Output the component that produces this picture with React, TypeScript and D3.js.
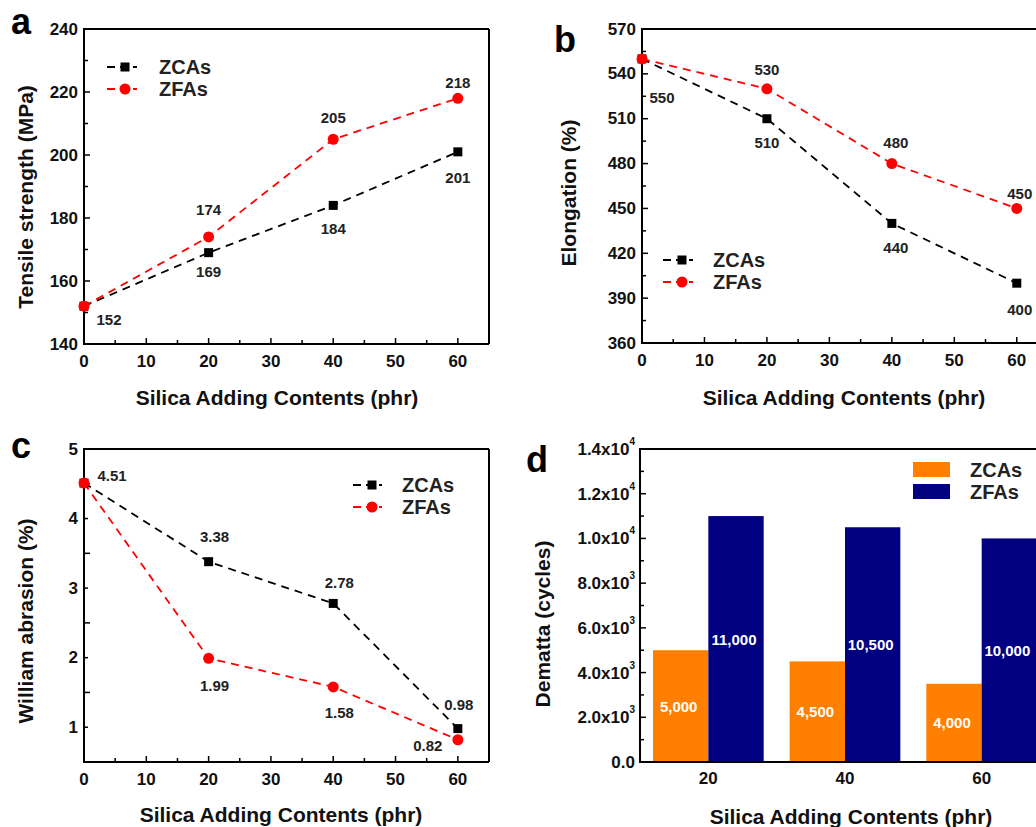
import { useEffect, useRef } from "react";
import * as d3 from "d3";

// silica contents (phr)
const contents = [0, 20, 40, 60];
const seriesNames = ["ZCAs", "ZFAs"];

const tensileZCA = [152, 169, 184, 201];
const tensileZFA = [152, 174, 205, 218];
const elongZCA = [550, 510, 440, 400];
const elongZFA = [550, 530, 480, 450];
const abrasionZCA = [4.51, 3.38, 2.78, 0.98];
const abrasionZFA = [4.51, 1.99, 1.58, 0.82];

const barContents = ["20", "40", "60"];
const demattaZCA = [5000, 4500, 3500];
const demattaZFA = [11000, 10500, 10000];
const demattaZCALabels = ["5,000", "4,500", "4,000"];
const demattaZFALabels = ["11,000", "10,500", "10,000"];

const FONT = "'Liberation Sans', Arial, sans-serif";
const colors = ["#000000", "#ff0000"];
const barColors = ["#ff8000", "#000080"];

// label placement: [series, index, dx, dy]
const layoutA = [
  [0, 0, 25, 13], [0, 1, 0, 19], [0, 2, 0, 23], [0, 3, 0, 26],
  [1, 1, 0, -27], [1, 2, 0, -22], [1, 3, 0, -16],
];
const layoutB = [
  [0, 0, 20, 39], [0, 1, 0, 24], [0, 2, 4, 24], [0, 3, 3, 26],
  [1, 1, 0, -19], [1, 2, 4, -21], [1, 3, 3, -15],
];
const layoutC = [
  [1, 0, 28, -8], [0, 1, 6, -25], [0, 2, 6, -21], [0, 3, 1, -24],
  [1, 1, 6, 27], [1, 2, 6, 26], [1, 3, -30, 6],
];

const drawFrame = (g, x0, x1, y0, y1, right = true) => {
  const f = g.append("g").attr("stroke", "#000").attr("stroke-width", 2).attr("fill", "none");
  f.append("line").attr("x1", x0).attr("x2", x0).attr("y1", y0 - 1).attr("y2", y1 + 1);
  f.append("line").attr("x1", x0 - 1).attr("x2", x1).attr("y1", y1).attr("y2", y1);
  f.append("line").attr("x1", x0 - 1).attr("x2", x1).attr("y1", y0).attr("y2", y0);
  if (right) f.append("line").attr("x1", x1).attr("x2", x1).attr("y1", y0).attr("y2", y1);
};

const drawLinePanel = (svg, cfg) => {
  const { left, right, top, bottom, yDomain, yStep, series, layout, fmt, legend, letter, yTitle, letterPos } = cfg;
  const g = svg.append("g");
  const x = d3.scaleLinear().domain([0, 65]).range([left, right]);
  const y = d3.scaleLinear().domain(yDomain).range([bottom, top]);

  // ticks (inward)
  const ticks = g.append("g").attr("stroke", "#000").attr("stroke-width", 1.5);
  d3.range(0, 61, 5).forEach((v) => {
    const len = v % 10 === 0 ? 6 : 4;
    ticks.append("line").attr("x1", x(v)).attr("x2", x(v)).attr("y1", bottom).attr("y2", bottom - len);
  });
  d3.range(yDomain[0], yDomain[1] + 1e-9, yStep / 2).forEach((v, i) => {
    const len = i % 2 === 0 ? 6 : 4;
    ticks.append("line").attr("x1", left).attr("x2", left + len).attr("y1", y(v)).attr("y2", y(v));
  });
  drawFrame(g, left, right, top, bottom);

  const tl = g.append("g").attr("font-family", FONT).attr("font-weight", "bold").attr("font-size", 17).attr("fill", "#111");
  cfg.yLabels.forEach((v) => {
    tl.append("text").attr("x", left - 6).attr("y", y(v)).attr("text-anchor", "end").attr("dominant-baseline", "central").text(v);
  });
  d3.range(0, 61, 10).forEach((v) => {
    tl.append("text").attr("x", x(v)).attr("y", bottom + 17).attr("text-anchor", "middle").attr("dominant-baseline", "central").text(v);
  });

  const line = d3.line().x((d, i) => x(contents[i])).y((d) => y(d));
  series.forEach((s, k) => {
    g.append("path").attr("d", line(s)).attr("fill", "none").attr("stroke", colors[k])
      .attr("stroke-width", 1.8).attr("stroke-dasharray", "8,6");
  });
  series.forEach((s, k) => {
    s.forEach((v, i) => {
      if (k === 0) g.append("rect").attr("x", x(contents[i]) - 4.5).attr("y", y(v) - 4.5).attr("width", 9).attr("height", 9).attr("fill", colors[k]);
      else g.append("circle").attr("cx", x(contents[i])).attr("cy", y(v)).attr("r", 5.5).attr("fill", colors[k]);
    });
  });

  const lab = g.append("g").attr("font-family", FONT).attr("font-weight", "bold").attr("font-size", 15).attr("fill", "#222");
  layout.forEach(([k, i, dx, dy]) => {
    const v = series[k][i];
    lab.append("text").attr("x", x(contents[i]) + dx).attr("y", y(v) + dy)
      .attr("text-anchor", "middle").attr("dominant-baseline", "central").text(fmt(v));
  });

  // legend
  const [lx0, lx1, mx, ly, tx] = legend;
  seriesNames.forEach((name, k) => {
    const yy = ly + k * 22;
    g.append("line").attr("x1", lx0).attr("x2", lx1).attr("y1", yy).attr("y2", yy).attr("stroke", colors[k])
      .attr("stroke-width", 1.8).attr("stroke-dasharray", "8,5");
    if (k === 0) g.append("rect").attr("x", mx - 4.5).attr("y", yy - 4.5).attr("width", 9).attr("height", 9).attr("fill", colors[k]);
    else g.append("circle").attr("cx", mx).attr("cy", yy).attr("r", 5.5).attr("fill", colors[k]);
    g.append("text").attr("x", tx).attr("y", yy).attr("dominant-baseline", "central").attr("font-family", FONT)
      .attr("font-weight", "bold").attr("font-size", 20).attr("fill", "#222").text(name);
  });

  g.append("text").attr("x", letterPos[0]).attr("y", letterPos[1]).attr("font-family", FONT).attr("font-weight", "bold")
    .attr("font-size", 36).text(letter);
  g.append("text").attr("transform", `translate(${cfg.yTitlePos[0]},${cfg.yTitlePos[1]}) rotate(-90)`)
    .attr("text-anchor", "middle").attr("dominant-baseline", "central").attr("font-family", FONT).attr("font-weight", "bold")
    .attr("font-size", 21).attr("fill", "#111").text(yTitle);
  g.append("text").attr("x", cfg.xTitlePos[0]).attr("y", cfg.xTitlePos[1]).attr("text-anchor", "middle")
    .attr("dominant-baseline", "central").attr("font-family", FONT).attr("font-weight", "bold").attr("font-size", 21)
    .attr("fill", "#111").text("Silica Adding Contents (phr)");
};

const App = () => {
  const svgRef = useRef(null);

  useEffect(() => {
    const svg = d3.select(svgRef.current);
    svg.selectAll("*").remove();

    drawLinePanel(svg, {
      left: 84, right: 489, top: 29, bottom: 344, yDomain: [140, 240], yStep: 20,
      yLabels: d3.range(140, 241, 20), series: [tensileZCA, tensileZFA], layout: layoutA,
      fmt: (v) => String(v), legend: [107, 137, 125, 67, 159], letter: "a", letterPos: [11, 34],
      yTitle: "Tensile strength (MPa)", yTitlePos: [25, 197], xTitlePos: [277, 397],
    });
    drawLinePanel(svg, {
      left: 642, right: 1048, top: 29, bottom: 343, yDomain: [360, 570], yStep: 30,
      yLabels: d3.range(360, 571, 30), series: [elongZCA, elongZFA], layout: layoutB,
      fmt: (v) => String(v), legend: [663, 693, 682, 260, 713], letter: "b", letterPos: [554, 52],
      yTitle: "Elongation (%)", yTitlePos: [568, 193], xTitlePos: [844, 397],
    });
    drawLinePanel(svg, {
      left: 84, right: 489, top: 449, bottom: 762, yDomain: [0.5, 5], yStep: 1,
      yLabels: [1, 2, 3, 4, 5], series: [abrasionZCA, abrasionZFA], layout: layoutC,
      fmt: (v) => v.toFixed(2), legend: [353, 382, 372, 485, 402], letter: "c", letterPos: [11, 458],
      yTitle: "William abrasion (%)", yTitlePos: [25, 621], xTitlePos: [281, 814],
    });

    // panel d: bars
    const left = 640, right = 1050, top = 449, bottom = 762;
    const g = svg.append("g");
    const x = d3.scaleBand().domain(barContents).range([left, right]).paddingInner(0.19).paddingOuter(0.095);
    const y = d3.scaleLinear().domain([0, 14000]).range([bottom, top]);
    const bw = x.bandwidth() / 2;
    [demattaZCA, demattaZFA].forEach((vals, k) => {
      g.append("g").selectAll("rect").data(vals).join("rect")
        .attr("x", (d, i) => x(barContents[i]) + k * bw).attr("y", (d) => y(d))
        .attr("width", bw).attr("height", (d) => bottom - y(d)).attr("fill", barColors[k]);
    });
    [demattaZCALabels, demattaZFALabels].forEach((labs, k) => {
      const vals = k === 0 ? demattaZCA : demattaZFA;
      labs.forEach((t, i) => {
        g.append("text").attr("x", x(barContents[i]) + k * bw + bw / 2 - 2).attr("y", y(vals[i] / 2))
          .attr("text-anchor", "middle").attr("dominant-baseline", "central").attr("font-family", FONT)
          .attr("font-weight", "bold").attr("font-size", 15).attr("fill", "#fff").text(t);
      });
    });
    const ticks = g.append("g").attr("stroke", "#000").attr("stroke-width", 1.5);
    d3.range(0, 14001, 1000).forEach((v) => {
      const len = v % 2000 === 0 ? 6 : 4;
      ticks.append("line").attr("x1", left).attr("x2", left + len).attr("y1", y(v)).attr("y2", y(v));
    });
    drawFrame(g, left, right, top, bottom);
    const tl = g.append("g").attr("font-family", FONT).attr("font-weight", "bold").attr("font-size", 17).attr("fill", "#111");
    d3.range(0, 14001, 2000).forEach((v) => {
      const t = tl.append("text").attr("x", left - 5).attr("y", y(v)).attr("text-anchor", "end").attr("dominant-baseline", "central");
      if (v === 0) { t.text("0.0"); return; }
      const e = Math.floor(Math.log10(v));
      t.append("tspan").text(`${(v / 10 ** e).toFixed(1)}x10`);
      t.append("tspan").attr("font-size", 10).attr("dy", -8).text(e);
    });
    barContents.forEach((c) => {
      tl.append("text").attr("x", x(c) + x.bandwidth() / 2).attr("y", 778).attr("text-anchor", "middle")
        .attr("dominant-baseline", "central").text(c);
    });
    seriesNames.forEach((name, k) => {
      const yy = 470 + k * 22;
      g.append("rect").attr("x", 913).attr("y", yy - 8).attr("width", 37).attr("height", 15).attr("fill", barColors[k]);
      g.append("text").attr("x", 970).attr("y", yy).attr("dominant-baseline", "central").attr("font-family", FONT)
        .attr("font-weight", "bold").attr("font-size", 20).attr("fill", "#222").text(name);
    });
    g.append("text").attr("x", 526).attr("y", 472).attr("font-family", FONT).attr("font-weight", "bold")
      .attr("font-size", 36).text("d");
    g.append("text").attr("transform", "translate(542,624) rotate(-90)").attr("text-anchor", "middle")
      .attr("dominant-baseline", "central").attr("font-family", FONT).attr("font-weight", "bold").attr("font-size", 21)
      .attr("fill", "#111").text("Dematta (cycles)");
    g.append("text").attr("x", 851).attr("y", 816).attr("text-anchor", "middle").attr("dominant-baseline", "central")
      .attr("font-family", FONT).attr("font-weight", "bold").attr("font-size", 21).attr("fill", "#111")
      .text("Silica Adding Contents (phr)");

    return () => {
      svg.selectAll("*").remove();
    };
  }, []);

  return (
    <svg ref={svgRef} width={1036} height={827}
      style={{ position: "absolute", left: 0, top: 0, background: "#fff" }} />
  );
};

export default App;
